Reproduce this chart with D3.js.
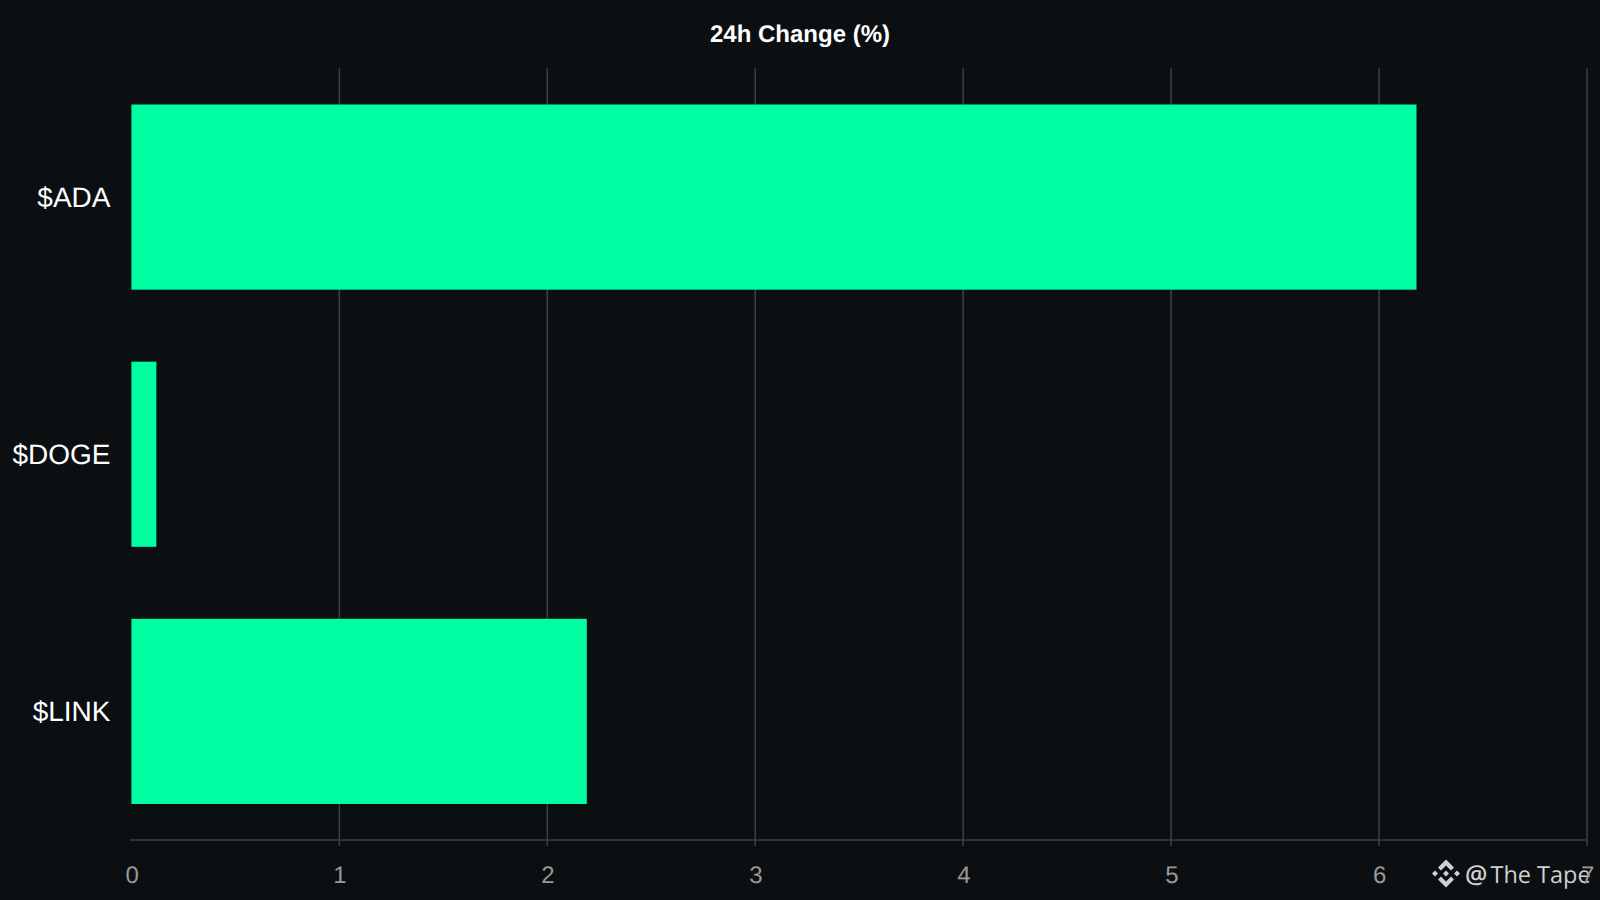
<!DOCTYPE html>
<html>
<head>
<meta charset="utf-8">
<script src="https://cdn.jsdelivr.net/npm/d3@7"></script>
<style>
  html, body { margin: 0; padding: 0; background: #0b0f12; overflow: hidden; }
  svg { display: block; text-rendering: geometricPrecision; }
</style>
</head>
<body>
<svg id="chart"></svg>
<script>
const categories = ["$ADA", "$DOGE", "$LINK"];
const changes = [6.18, 0.12, 2.19];
const xTicks = [0, 1, 2, 3, 4, 5, 6, 7];

const width = 1600;
const height = 900;
const margin = { top: 68.5, right: 13, bottom: 60, left: 131.4 };

const svg = d3.select("#chart").attr("width", width).attr("height", height);

const x = d3.scaleLinear().domain([0, 7]).range([margin.left, width - margin.right]);
const y = d3.scaleBand()
  .domain(categories)
  .range([margin.top, height - margin.bottom])
  .paddingInner(0.28)
  .paddingOuter(0.14);

// vertical grid lines, they run a bit below the axis line
svg.append("g").selectAll("line")
  .data(xTicks.slice(1))
  .join("line")
  .attr("x1", d => x(d)).attr("x2", d => x(d))
  .attr("y1", margin.top).attr("y2", height - margin.bottom + 6)
  .attr("stroke", "#404040")
  .attr("stroke-width", 1.5);

// axis line
svg.append("line")
  .attr("x1", x(0) - 1.4).attr("x2", x(7))
  .attr("y1", height - margin.bottom).attr("y2", height - margin.bottom)
  .attr("stroke", "#404040")
  .attr("stroke-width", 1.5);

// bars
svg.append("g").selectAll("rect")
  .data(categories)
  .join("rect")
  .attr("x", x(0))
  .attr("y", d => y(d))
  .attr("width", (d, i) => x(changes[i]) - x(0))
  .attr("height", y.bandwidth())
  .attr("fill", "#00ffa3");

// category labels
svg.append("g").selectAll("text")
  .data(categories)
  .join("text")
  .attr("x", margin.left - 20.9)
  .attr("y", d => y(d) + y.bandwidth() / 2)
  .attr("dy", "0.35em")
  .attr("text-anchor", "end")
  .attr("fill", "#ffffff")
  .style("font-family", "'Liberation Sans', sans-serif")
  .style("font-size", "28px")
  .text(d => d);

// watermark with the diamond logo, under the tick labels
const mark = svg.append("g").attr("transform", "translate(1446,873.5)").attr("fill", "#d0d0d0");
mark.append("path").attr("d", "M0,-14 L8,-6 L5,-3 L0,-8 L-5,-3 L-8,-6 Z");
mark.append("path").attr("d", "M0,14 L8,6 L5,3 L0,8 L-5,3 L-8,6 Z");
mark.append("path").attr("d", "M0,-3 L3,0 L0,3 L-3,0 Z");
mark.append("path").attr("d", "M-11,-3 L-8,0 L-11,3 L-14,0 Z");
mark.append("path").attr("d", "M11,-3 L14,0 L11,3 L8,0 Z");

const markText = svg.append("text")
  .attr("x", 1465)
  .attr("y", 883)
  .attr("fill", "#d0d0d0")
  .style("font-family", "'Open Sans', sans-serif")
  .style("font-size", "23.5px");
markText.append("tspan").style("font-size", "25px").style("font-weight", "600").text("@");
markText.append("tspan").attr("dx", 3).text("The Tape");

// x tick labels
svg.append("g").selectAll("text")
  .data(xTicks)
  .join("text")
  .attr("x", d => x(d) + 0.7)
  .attr("y", 883)
  .attr("text-anchor", "middle")
  .attr("fill", "#999999")
  .style("font-family", "'Liberation Sans', sans-serif")
  .style("font-size", "24px")
  .text(d => d);

// title
svg.append("text")
  .attr("x", width / 2)
  .attr("y", 42)
  .attr("text-anchor", "middle")
  .attr("fill", "#ffffff")
  .style("font-family", "'Liberation Sans', sans-serif")
  .style("font-size", "24px")
  .style("font-weight", "bold")
  .text("24h Change (%)");
</script>
</body>
</html>
